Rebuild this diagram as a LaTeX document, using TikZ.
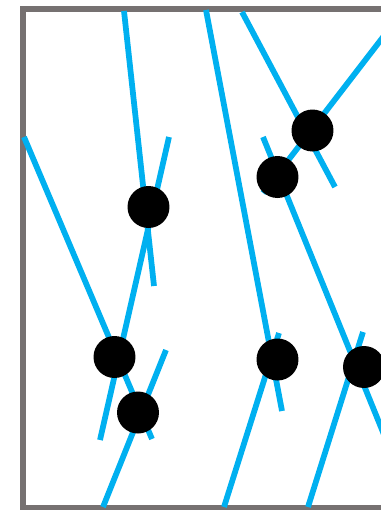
\documentclass[tikz,border=0pt]{standalone}
\usepackage{xcolor}
\definecolor{frame-gray}{HTML}{767171}
\definecolor{rope-blue}{HTML}{00B0F0}
\usepackage{tikz}
\tikzset{frame/.style = {draw=frame-gray, line width=0.115cm}}
\tikzset{rope/.style = {draw=rope-blue, line width=0.115cm}}
\tikzset{knot/.style = {circle, fill=black, inner sep=0pt, minimum size=0.84cm}}

\begin{document}
\begin{tikzpicture}[x=0.02cm, y=-0.02cm]
\useasboundingbox (0,0) rectangle (381,511);
\clip (0,0) rectangle (381,511);

\draw[frame] (23,9) rectangle (430,507.5);

% ropes, drawn under the knots
\draw[rope] (124,11) -- (154,286);
\draw[rope] (169,137) -- (100,440);
\draw[rope] (24,137) -- (152,439);
\draw[rope] (166,350) -- (103,507);
\draw[rope] (206,10) -- (282,411);
\draw[rope] (279,333) -- (224,507);
\draw[rope] (242,12) -- (335,187);
\draw[rope] (400,15) -- (263,193);
\draw[rope] (263,137) -- (400,474);
\draw[rope] (363,332) -- (308,507);

\node[knot] (k1) at (148.5,207) {};
\node[knot] (k2) at (312.5,130.5) {};
\node[knot] (k3) at (277.5,177) {};
\node[knot] (k4) at (114.5,357) {};
\node[knot] (k5) at (138,412.5) {};
\node[knot] (k6) at (277.5,359.5) {};
\node[knot] (k7) at (364,367) {};

\end{tikzpicture}
\end{document}
